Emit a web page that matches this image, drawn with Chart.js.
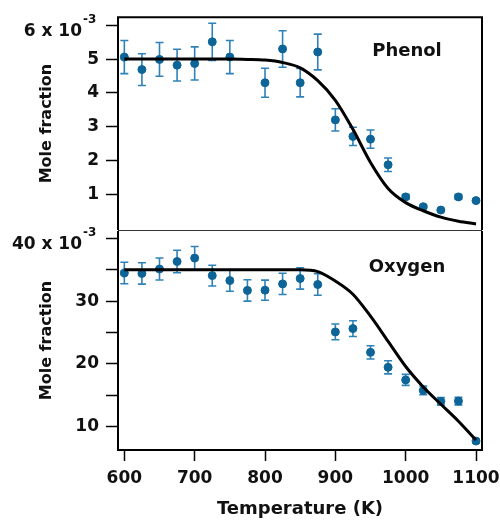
<!DOCTYPE html>
<html>
<head>
<meta charset="utf-8">
<script src="https://cdn.jsdelivr.net/npm/chart.js@4/dist/chart.umd.min.js"></script>
<style>
  html, body { margin: 0; padding: 0; background: #fff; }
  .wrap { position: relative; width: 500px; height: 520px; }
  .wrap canvas { position: absolute; left: 0; top: 0; }
</style>
</head>
<body>
<div class="wrap">
  <canvas id="phenolChart" width="500" height="520"></canvas>
  <canvas id="oxygenChart" width="500" height="520"></canvas>
</div>
<script>
const temps = [600, 625, 650, 675, 700, 725, 750, 775, 800, 825, 850, 875, 900, 925, 950, 975, 1000, 1025, 1050, 1075, 1100];

// units of 1e-3
const phenolValues = [5.06, 4.69, 4.99, 4.82, 4.87, 5.51, 5.06, null, 4.30, 5.30, 4.30, 5.21, 3.20, 2.71, 2.63, 1.87, 0.92, 0.63, 0.53, 0.92, 0.81];
const phenolErrors = [0.49, 0.47, 0.50, 0.47, 0.49, 0.55, 0.49, null, 0.43, 0.54, 0.42, 0.53, 0.33, 0.27, 0.27, 0.20, 0.07, 0.04, 0.03, 0.07, 0.05];
const phenolModel = [5.0, 5.0, 5.0, 5.0, 5.0, 5.0, 5.0, 4.99, 4.97, 4.90, 4.74, 4.36, 3.78, 2.92, 1.94, 1.17, 0.75, 0.51, 0.32, 0.20, 0.12];

const oxygenValues = [34.47, 34.4, 35.1, 36.3, 36.84, 34.06, 33.27, 31.7, 31.74, 32.74, 33.6, 32.64, 25.1, 25.63, 21.85, 19.47, 17.47, 15.8, 14.06, 14.1, 7.74];
const oxygenErrors = [1.7, 1.7, 1.75, 1.8, 1.85, 1.65, 1.7, 1.7, 1.6, 1.7, 1.7, 1.7, 1.25, 1.25, 1.05, 1.05, 0.87, 0.7, 0.6, 0.6, 0.3];
const oxygenModel = [35, 35, 35, 35, 35, 35, 35, 35, 35, 35, 35, 34.7, 33.2, 31.1, 27.6, 23.6, 19.6, 16.35, 13.6, 10.9, 7.9];

const xTicks = [600, 700, 800, 900, 1000, 1100];
const phenolTicks = [1, 2, 3, 4, 5, 6];
const oxygenTicks = [10, 15, 20, 25, 30, 35, 40];

const FONT = "'DejaVu Sans', 'Liberation Sans', Arial, sans-serif";
const POINT_COLOR = "#0d6497";
const BAR_COLOR = "#2f82b8";

const toPoints = (values) =>
  temps.map((t, i) => ({ x: t, y: values[i] })).filter((p) => p.y !== null);

function errorBars(values, errors) {
  return {
    id: "errorBars",
    beforeDatasetsDraw(chart) {
      const { ctx, scales } = chart;
      ctx.save();
      ctx.strokeStyle = BAR_COLOR;
      ctx.lineWidth = 1.6;
      temps.forEach((t, i) => {
        if (values[i] === null) {
          return;
        }
        const x = scales.x.getPixelForValue(t);
        const top = scales.y.getPixelForValue(values[i] + errors[i]);
        const bottom = scales.y.getPixelForValue(values[i] - errors[i]);
        ctx.beginPath();
        ctx.moveTo(x, top);
        ctx.lineTo(x, bottom);
        ctx.moveTo(x - 4, top);
        ctx.lineTo(x + 4, top);
        ctx.moveTo(x - 4, bottom);
        ctx.lineTo(x + 4, bottom);
        ctx.stroke();
      });
      ctx.restore();
    },
  };
}

function panelDecor(name, nameY, expTick, drawSeparator) {
  return {
    id: "panelDecor",
    afterDraw(chart) {
      const { ctx, chartArea, scales } = chart;
      const { left, right, top, bottom } = chartArea;
      ctx.save();
      ctx.strokeStyle = "#000";
      ctx.lineWidth = 2;
      ctx.beginPath();
      if (drawSeparator) {
        ctx.moveTo(left, bottom);
        ctx.lineTo(left, top);
        ctx.lineTo(right, top);
        ctx.lineTo(right, bottom);
      } else {
        ctx.moveTo(left, top);
        ctx.lineTo(left, bottom);
        ctx.lineTo(right, bottom);
        ctx.lineTo(right, top);
      }
      ctx.stroke();
      if (drawSeparator) {
        ctx.lineWidth = 1.2;
        ctx.strokeStyle = "#333";
        ctx.beginPath();
        ctx.moveTo(left, bottom + 0.5);
        ctx.lineTo(right, bottom + 0.5);
        ctx.stroke();
      }

      ctx.fillStyle = "#111";
      ctx.font = `bold 18px ${FONT}`;
      ctx.textAlign = "center";
      ctx.textBaseline = "middle";
      ctx.fillText(name, right - 75, top + nameY);

      const ty = scales.y.getPixelForValue(expTick);
      ctx.font = `bold 17px ${FONT}`;
      ctx.textAlign = "right";
      ctx.textBaseline = "alphabetic";
      ctx.fillText(`${expTick} x 10`, 82, ty + 11);
      ctx.font = `bold 12px ${FONT}`;
      ctx.textAlign = "left";
      ctx.fillText("-3", 83, ty - 2);
      ctx.restore();
    },
  };
}

function yAxis(min, max, ticks, labelFn) {
  return {
    min,
    max,
    afterBuildTicks: (axis) => {
      axis.ticks = ticks.map((v) => ({ value: v }));
    },
    afterFit: (scale) => {
      scale.width = 118;
    },
    border: { display: false },
    grid: {
      drawOnChartArea: false,
      drawTicks: true,
      tickLength: 12,
      tickColor: "#000",
      tickWidth: 1.5,
    },
    ticks: {
      padding: 7,
      color: "#111",
      font: { family: FONT, size: 17, weight: "bold" },
      callback: labelFn,
    },
    title: {
      display: true,
      text: "Mole fraction",
      color: "#111",
      font: { family: FONT, size: 16, weight: "bold" },
      padding: { top: 37, bottom: 0 },
    },
  };
}

function datasets(model, values) {
  return [
    {
      type: "line",
      data: toPoints(model),
      borderColor: "#000",
      borderWidth: 3,
      pointRadius: 0,
      cubicInterpolationMode: "monotone",
      fill: false,
    },
    {
      type: "scatter",
      data: toPoints(values),
      backgroundColor: POINT_COLOR,
      borderColor: POINT_COLOR,
      pointRadius: 4,
      showLine: false,
    },
  ];
}

const xBase = {
  type: "linear",
  min: 591,
  max: 1108.5,
  afterBuildTicks: (axis) => {
    axis.ticks = xTicks.map((v) => ({ value: v }));
  },
};

const phenolEl = document.getElementById("phenolChart");
new Chart(phenolEl, {
  data: { datasets: datasets(phenolModel, phenolValues) },
  options: {
    responsive: false,
    animation: false,
    events: [],
    layout: { padding: { top: 16, right: 18, bottom: 290, left: 0 } },
    plugins: { legend: { display: false }, tooltip: { enabled: false } },
    scales: {
      x: { ...xBase, display: false },
      y: yAxis(-0.06, 6.24, phenolTicks, (v) => (v === 6 ? "" : String(v))),
    },
  },
  plugins: [errorBars(phenolValues, phenolErrors), panelDecor("Phenol", 34, 6, true)],
});

const oxygenEl = document.getElementById("oxygenChart");
new Chart(oxygenEl, {
  data: { datasets: datasets(oxygenModel, oxygenValues) },
  options: {
    responsive: false,
    animation: false,
    events: [],
    layout: { padding: { top: 231, right: 18, bottom: 0, left: 0 } },
    plugins: { legend: { display: false }, tooltip: { enabled: false } },
    scales: {
      x: {
        ...xBase,
        afterFit: (scale) => {
          scale.height = 70;
          scale.paddingLeft = 0;
          scale.paddingRight = 0;
        },
        border: { display: false },
        grid: {
          drawOnChartArea: false,
          drawTicks: true,
          tickLength: 11,
          tickColor: "#000",
          tickWidth: 1.5,
        },
        ticks: {
          padding: 7,
          maxRotation: 0,
          color: "#111",
          font: { family: FONT, size: 17, weight: "bold" },
          callback: (v) => String(v),
        },
        title: {
          display: true,
          text: "Temperature (K)",
          color: "#111",
          font: { family: FONT, size: 18, weight: "bold" },
          padding: { top: 0, bottom: 0 },
        },
      },
      y: yAxis(6.32, 41.15, oxygenTicks, (v) => (v % 10 === 0 && v !== 40 ? String(v) : "")),
    },
  },
  plugins: [errorBars(oxygenValues, oxygenErrors), panelDecor("Oxygen", 36, 40, false)],
});
</script>
</body>
</html>
